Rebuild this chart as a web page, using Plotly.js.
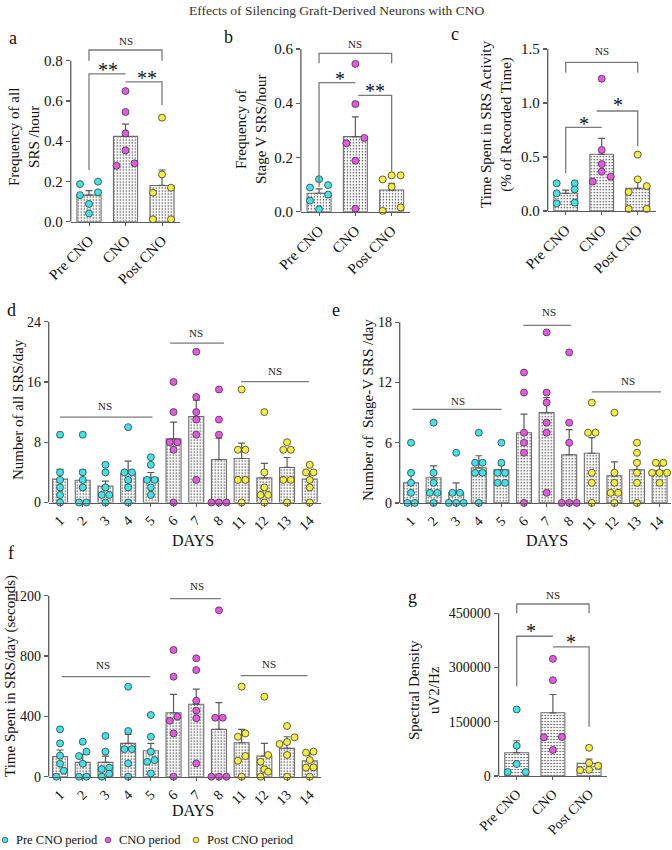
<!DOCTYPE html>
<html><head><meta charset="utf-8">
<script src="https://cdn.plot.ly/plotly-3.0.1.min.js"></script>
<style>html,body{margin:0;padding:0;background:#fff}#chart{width:672px;height:850px}</style>
</head><body><div id="chart"></div>
<script>
// ---------- DATA ----------
const groupCats = ['Pre CNO', 'CNO', 'Post CNO'];
const dayCats = ['1', '2', '3', '4', '5', '6', '7', '8', '11', '12', '13', '14'];
const dayPeriod = [0, 0, 0, 0, 0, 1, 1, 1, 2, 2, 2, 2];
const periodNames = ['Pre CNO period', 'CNO period', 'Post CNO period'];

// a: Frequency of all SRS / hour
const aMeans = [0.132, 0.424, 0.18];
const aErrTop = [0.154, 0.485, 0.257];
const aPre = [0.199, 0.187, 0.146, 0.132, 0.088, 0.041];
const aCNO = [0.649, 0.545, 0.439, 0.354, 0.29, 0.278];
const aPost = [0.517, 0.235, 0.169, 0.144, 0.012, 0.012];

// b: Frequency of Stage V SRS / hour
const bMeans = [0.068, 0.277, 0.08];
const bErrTop = [0.084, 0.35, 0.105];
const bPre = [0.12, 0.098, 0.089, 0.063, 0.041, 0.009];
const bCNO = [0.545, 0.397, 0.272, 0.252, 0.188, 0.011];
const bPost = [0.134, 0.134, 0.119, 0.092, 0.016, 0.003];

// c: Time spent in SRS activity (%)
const cMeans = [0.164, 0.525, 0.21];
const cErrTop = [0.194, 0.673, 0.293];
const cPre = [0.256, 0.256, 0.2, 0.164, 0.077, 0.071];
const cCNO = [1.225, 0.565, 0.435, 0.364, 0.318, 0.272];
const cPost = [0.522, 0.293, 0.231, 0.176, 0.019, 0.019];

// d: Number of all SRS / day
const dMeans = [3.1, 2.96, 2.17, 3.85, 3.27, 8.44, 11.4, 5.7, 5.84, 3.27, 4.65, 3.1];
const dErrTop = [4.4, 4.3, 2.83, 5.5, 3.98, 10.67, 13.6, 8.53, 7.87, 5.2, 5.97, 4.07];
const dPoints = [
  [9, 4, 3, 2, 1, 0], [9, 4, 3, 2, 0, 0], [5, 4, 2, 1, 1, 0], [10, 4, 4, 3, 2, 0],
  [6, 5, 3, 3, 2, 1], [16, 12, 8, 8, 7, 0], [20, 14, 12, 11, 9, 3], [15, 11, 9, 0, 0, 0],
  [15, 7, 7, 3, 3, 0], [12, 4, 2, 1, 1, 0], [8, 7, 7, 3, 3, 0], [5, 4, 4, 3, 2, 0]
];

// e: Number of Stage-V SRS / day
const eMeans = [2.0, 2.5, 1.0, 3.5, 3.3, 7.0, 9.0, 4.8, 4.95, 2.7, 3.3, 3.2];
const eErrTop = [3.0, 3.7, 2.0, 4.7, 3.8, 8.86, 10.5, 7.3, 6.5, 4.1, 4.2, 3.7];
const ePoints = [
  [6, 3, 2, 1, 0, 0], [8, 3, 2, 1, 1, 0], [5, 1, 1, 0, 0, 0], [7, 4, 4, 3, 3, 0],
  [6, 4, 3, 3, 2, 2], [13, 11, 7, 6, 5, 0], [17, 11, 10, 8, 7, 1], [15, 8, 6, 0, 0, 0],
  [10, 7, 7, 3, 2, 0], [9, 3, 2, 1, 1, 0], [6, 5, 4, 3, 2, 0], [4, 4, 3, 3, 3, 2]
];

// f: Time spent in SRS / day (seconds)
const fMeans = [133, 95, 95, 221, 172, 424, 480, 314, 225, 137, 188, 105];
const fErrTop = [177, 150, 137, 280, 221, 546, 581, 491, 314, 221, 265, 155];
const fPoints = [
  [314, 221, 140, 86, 40, 0], [232, 166, 137, 86, 0, 0], [270, 166, 60, 50, 20, 0],
  [597, 303, 183, 183, 88, 0], [409, 265, 166, 110, 99, 22], [840, 663, 398, 371, 287, 0],
  [785, 707, 504, 438, 387, 88], [1103, 391, 391, 0, 0, 0], [597, 287, 265, 137, 106, 0],
  [530, 144, 99, 49, 33, 0], [336, 261, 230, 217, 144, 0], [166, 159, 110, 62, 60, 0]
];

// g: Spectral density uV2/Hz
const gMeans = [64400, 174800, 35000];
const gErrTop = [97500, 225400, 47000];
const gPre = [184000, 83700, 33100, 11000, 11000];
const gCNO = [324000, 265000, 107700, 106700, 71800];
const gPost = [78000, 36000, 28000, 17000, 16000];

// tick labels
const aTicks = [0, 0.2, 0.4, 0.6, 0.8], aTickText = ['0.0', '0.2', '0.4', '0.6', '0.8'];
const bTicks = [0, 0.2, 0.4, 0.6], bTickText = ['0.0', '0.2', '0.4', '0.6'];
const cTicks = [0, 0.5, 1.0, 1.5], cTickText = ['0.0', '0.5', '1.0', '1.5'];
const dTicks = [0, 8, 16, 24];
const eTicks = [0, 6, 12, 18];
const fTicks = [0, 400, 800, 1200];
const gTicks = [0, 150000, 300000, 450000];

// ---------- STYLE ----------
const W = 672, H = 850;
const COLORS = ['#3fe3e8', '#ea55e6', '#f6ee3e'];
const FONT = 'Liberation Serif, Times New Roman, serif';
const AXC = '#5a5a5a';
const BRC = '#7a7a7a';

const panels = [
  {id: '', L: 70.75, R: 180.25, T: 30.5, B: 221.7, yr: [0, 0.95], top: 0.8, cats: groupCats, ticks: aTicks, tickText: aTickText,
   means: aMeans, err: aErrTop, groups: [aPre, aCNO, aPost], wide: true, tf: 15},
  {id: '2', L: 300.9, R: 409.8, T: 27.3, B: 211.7, yr: [0, 0.68], top: 0.6, cats: groupCats, ticks: bTicks, tickText: bTickText,
   means: bMeans, err: bErrTop, groups: [bPre, bCNO, bPost], wide: true, tf: 15},
  {id: '3', L: 547.7, R: 655.7, T: 38.2, B: 211, yr: [0, 1.6], top: 1.5, cats: groupCats, ticks: cTicks, tickText: cTickText,
   means: cMeans, err: cErrTop, groups: [cPre, cCNO, cPost], wide: true, tf: 15},
  {id: '4', L: 48.7, R: 321.1, T: 306.6, B: 502.5, yr: [0, 26], top: 24, cats: dayCats, ticks: dTicks, tickText: dTicks.map(String),
   means: dMeans, err: dErrTop, groups: dPoints, wide: false, tf: 14},
  {id: '5', L: 399.7, R: 670.9, T: 304.3, B: 502.9, yr: [0, 19.8], top: 18, cats: dayCats, ticks: eTicks, tickText: eTicks.map(String),
   means: eMeans, err: eErrTop, groups: ePoints, wide: false, tf: 14},
  {id: '6', L: 48.7, R: 321.1, T: 577.6, B: 776.7, yr: [0, 1320], top: 1200, cats: dayCats, ticks: fTicks, tickText: fTicks.map(String),
   means: fMeans, err: fErrTop, groups: fPoints, wide: false, tf: 14},
  {id: '7', L: 498.6, R: 607.2, T: 588, B: 776, yr: [0, 520000], top: 450000, cats: groupCats, ticks: gTicks, tickText: gTicks.map(String),
   means: gMeans, err: gErrTop, groups: [gPre, gCNO, gPost], wide: true, tf: 14}
];

function swarm(vals, pxPerUnit, pxPerCat, wide) {
  const idx = vals.map((v, i) => i).sort((a, b) => vals[a] - vals[b]);
  const rows = []; let cur = null;
  idx.forEach(i => {
    if (cur && (vals[i] - vals[cur[0]]) * pxPerUnit < 7) cur.push(i);
    else { cur = [i]; rows.push(cur); }
  });
  const off = new Array(vals.length).fill(0);
  rows.forEach(r => {
    const n = r.length;
    r.forEach((i, k) => {
      let px;
      if (wide) {
        if (n % 2 === 1) px = (k - (n - 1) / 2) * 9;
        else { const h = n / 2; px = k < h ? -(h - k) * 9 : (k - h + 1) * 9; }
      } else px = (k - (n - 1) / 2) * 7.5;
      off[i] = px / pxPerCat;
    });
  });
  return off;
}

const traces = [];
const layout = {
  width: W, height: H, margin: {l: 0, r: 0, t: 0, b: 0},
  paper_bgcolor: '#fff', plot_bgcolor: 'rgba(0,0,0,0)',
  showlegend: false, font: {family: FONT, color: '#111'},
  shapes: [], annotations: []
};

panels.forEach(p => {
  const xa = 'x' + p.id, ya = 'y' + p.id;
  const n = p.cats.length;
  const catIdx = p.cats.map((c, i) => i);
  traces.push({
    type: 'bar', x: catIdx, y: p.means, xaxis: xa, yaxis: ya, width: 0.66,
    marker: {color: '#fff', line: {color: '#6e6e6e', width: 1.1},
             pattern: {shape: '.', fgcolor: '#333', bgcolor: '#fff', size: 3, solidity: 0.18}},
    error_y: {type: 'data', symmetric: false, array: p.err.map((e, i) => e - p.means[i]),
              arrayminus: p.means.map(() => 0), color: '#5a5a5a', thickness: 1.2, width: 3.5},
    hoverinfo: 'skip'
  });
  const pxPerUnit = (p.B - p.T) / (p.yr[1] - p.yr[0]);
  const pxPerCat = (p.R - p.L) / n;
  const byColor = [[], [], []];
  p.groups.forEach((vals, gi) => {
    const col = (n === 3) ? gi : dayPeriod[gi];
    const off = swarm(vals, pxPerUnit, pxPerCat, p.wide);
    vals.forEach((v, k) => byColor[col].push([gi + off[k], v]));
  });
  byColor.forEach((pts, ci) => {
    if (!pts.length) return;
    traces.push({
      type: 'scatter', mode: 'markers', xaxis: xa, yaxis: ya, cliponaxis: false,
      x: pts.map(q => q[0]), y: pts.map(q => q[1]), name: periodNames[ci],
      marker: {size: 7, color: COLORS[ci], line: {color: '#3a3a3a', width: 0.8}}, hoverinfo: 'skip'
    });
  });
  layout['xaxis' + p.id] = {
    domain: [p.L / W, p.R / W], range: [-0.5, n - 0.5], anchor: ya,
    showline: true, linecolor: AXC, linewidth: 1.3, showgrid: false, zeroline: false,
    tickvals: catIdx, ticktext: p.cats, tickangle: -45, ticks: 'outside', ticklen: 3, tickcolor: AXC, tickwidth: 1,
    tickfont: {family: FONT, size: p.tf, color: '#111'}, fixedrange: true
  };
  layout['yaxis' + p.id] = {
    domain: [1 - p.B / H, 1 - p.T / H], range: p.yr, anchor: xa,
    showline: false, showgrid: false, zeroline: false,
    tickvals: p.ticks, ticktext: p.tickText, ticks: 'outside', ticklen: 4, tickcolor: AXC, tickwidth: 1.3,
    tickfont: {family: FONT, size: p.tf, color: '#111'}, fixedrange: true
  };
  layout.shapes.push({type: 'line', xref: xa + ' domain', yref: ya, x0: 0, x1: 0, y0: 0, y1: p.top,
                      line: {color: AXC, width: 1.3}});
});

// ---------- brackets ----------
function ns(id, x, y) {
  layout.annotations.push({xref: 'x' + id, yref: 'y' + id, x: x, y: y, text: 'NS', showarrow: false,
    xanchor: 'center', yanchor: 'middle', font: {family: FONT, size: 11, color: '#222'}});
}
function star(id, x, y, t) {
  layout.annotations.push({xref: 'x' + id, yref: 'y' + id, x: x, y: y, text: t, showarrow: false,
    xanchor: 'center', yanchor: 'middle', font: {family: FONT, size: 20, color: '#111'}});
}
function path(id, d) {
  layout.shapes.push({type: 'path', xref: 'x' + id, yref: 'y' + id, path: d, line: {color: BRC, width: 1.3}});
}
path('', 'M0,0.8 L0,0.853 L2,0.853 L2,0.8'); ns('', 1, 0.9);
path('', 'M0,0.257 L0,0.734 L1,0.734'); star('', 0.53, 0.752, '**');
path('', 'M1,0.695 L2,0.695 L2,0.58'); star('', 1.58, 0.715, '**');
path('2', 'M0,0.547 L0,0.584 L2,0.584 L2,0.547'); ns('2', 1, 0.618);
path('2', 'M0,0.092 L0,0.476 L1,0.476'); star('2', 0.59, 0.488, '*');
path('2', 'M1.08,0.429 L2,0.429 L2,0.148'); star('2', 1.54, 0.445, '**');
path('3', 'M0,1.28 L0,1.376 L2,1.376 L2,1.28'); ns('3', 1, 1.48);
path('3', 'M0,0.349 L0,0.775 L1,0.775'); star('3', 0.51, 0.81, '*');
path('3', 'M0.86,0.926 L2,0.926 L2,0.6'); star('3', 1.46, 0.98, '*');
path('4', 'M0,11.33 L4.07,11.33'); ns('4', 2, 12.75);
path('4', 'M4.85,21.15 L7.22,21.15'); ns('4', 6, 22.5);
path('4', 'M7.97,16.04 L10.97,16.04'); ns('4', 9.47, 17.5);
path('5', 'M0.06,9.33 L4.01,9.33'); ns('5', 2.1, 10.2);
path('5', 'M4.97,17.7 L7.08,17.7'); ns('5', 6.1, 19.0);
path('5', 'M8.0,11.07 L11.06,11.07'); ns('5', 9.59, 12.17);
path('6', 'M0.07,663 L3.97,663'); ns('6', 1.91, 740);
path('6', 'M4.85,1180 L7.08,1180'); ns('6', 6.05, 1262);
path('6', 'M7.96,670 L10.9,670'); ns('6', 9.2, 747);
path('7', 'M0,450000 L0,475700 L2,475700 L2,450000'); ns('7', 1, 501500);
path('7', 'M0,248400 L0,386500 L1,386500'); star('7', 0.4, 402000, '*');
path('7', 'M1,357000 L2,357000 L2,136200'); star('7', 1.49, 371000, '*');

// ---------- texts in pixel positions ----------
function ptext(x, y, t, size, opts) {
  layout.annotations.push(Object.assign({xref: 'paper', yref: 'paper', x: x / W, y: 1 - y / H, text: t,
    showarrow: false, xanchor: 'center', yanchor: 'middle',
    font: {family: FONT, size: size, color: '#111'}}, opts || {}));
}
ptext(336, 11, 'Effects of Silencing Graft-Derived Neurons with CNO', 13.5, {font: {family: FONT, size: 13.5, color: '#333'}});
ptext(13, 38, 'a', 18); ptext(228, 37, 'b', 18); ptext(455, 34, 'c', 18);
ptext(11, 310, 'd', 18); ptext(336, 310, 'e', 18); ptext(11, 553, 'f', 18); ptext(412, 597, 'g', 18);
ptext(24, 137, 'Frequency of all<br>SRS /hour', 15, {textangle: -90});
ptext(251, 130, 'Frequency of<br>Stage V SRS/hour', 15, {textangle: -90});
ptext(496, 125, 'Time Spent in SRS Activity<br>(% of Recorded Time)', 15, {textangle: -90});
ptext(18, 410, 'Number of all SRS/day', 15, {textangle: -90});
ptext(368, 410, 'Number of  Stage-V SRS /day', 15, {textangle: -90});
ptext(10, 676, 'Time Spent in SRS/day (seconds)', 15, {textangle: -90});
ptext(424, 690, 'Spectral Density<br>uV2/Hz', 15, {textangle: -90});
ptext(193, 540, 'DAYS', 16); ptext(547, 540, 'DAYS', 16); ptext(193, 810, 'DAYS', 16);
const legCircleX = [5, 108, 196];
const legTextX = [14, 117, 205];
periodNames.forEach((nm, i) => {
  layout.shapes.push({type: 'circle', xref: 'paper', yref: 'paper',
    x0: (legCircleX[i] - 2.8) / W, x1: (legCircleX[i] + 2.8) / W, y0: 1 - 842.8 / H, y1: 1 - 837.2 / H,
    fillcolor: COLORS[i], line: {color: '#3a3a3a', width: 0.7}});
  ptext(legTextX[i], 840, nm, 12.5, {xanchor: 'left'});
});

Plotly.newPlot('chart', traces, layout, {staticPlot: true});
</script></body></html>
